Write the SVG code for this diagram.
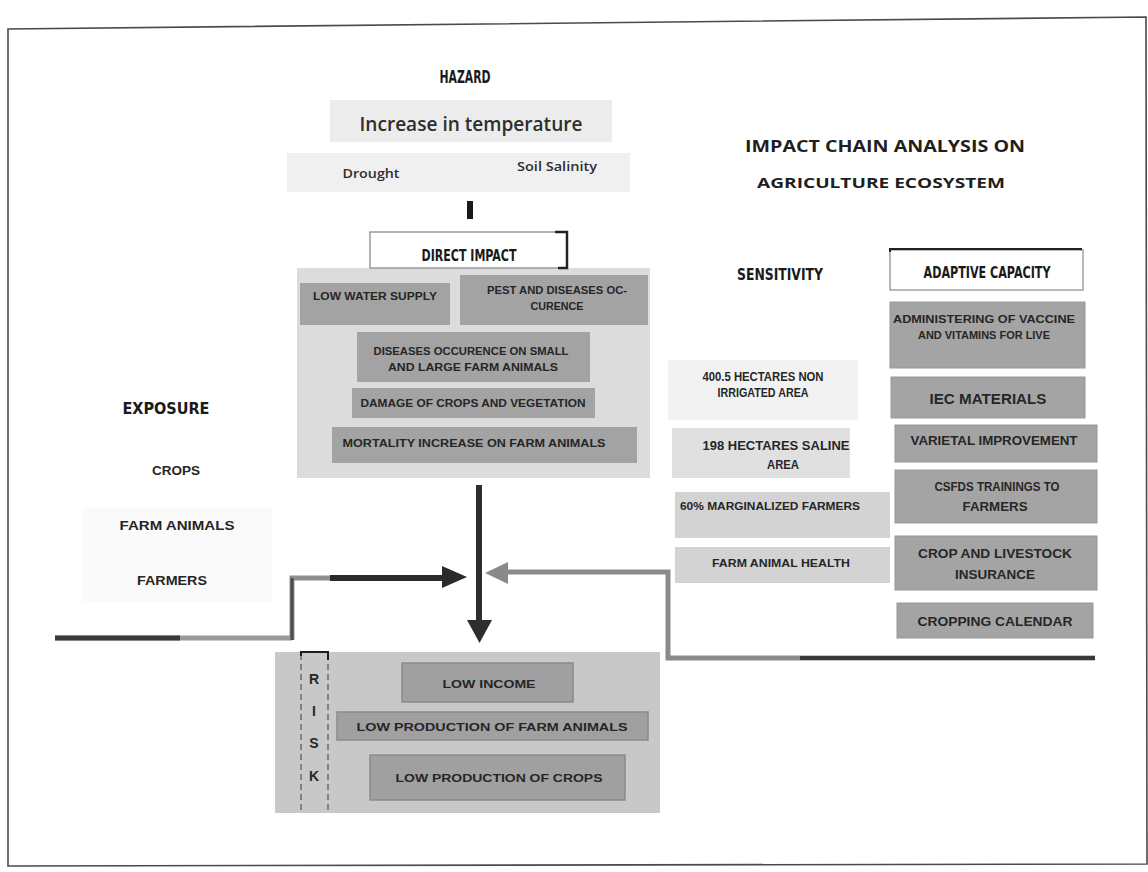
<svg xmlns="http://www.w3.org/2000/svg" width="1148" height="872" viewBox="0 0 1148 872">
  <style>
    .sheet { fill: #ffffff; stroke: #4a4a4a; stroke-width: 1.6; }
    .cond { font-family: "Liberation Sans Narrow", "DejaVu Sans Condensed", "Liberation Sans", sans-serif; font-weight: bold; fill: #1a1a1a; font-stretch: condensed; }
    .lbl { font-family: "Liberation Sans", "Open Sans", sans-serif; font-weight: bold; fill: #262626; }
    .soft { font-family: "Open Sans", "Liberation Sans", sans-serif; font-weight: 600; fill: #2e2e2e; }
    .title { font-family: "Open Sans", "Liberation Sans", sans-serif; font-weight: bold; fill: #1f1f1f; }
    .panel { fill: #dcdcdc; }
    .faint { fill: #ececec; }
    .sens { fill: #d3d3d3; }
    .dark { fill: #a3a3a3; }
    .adapt { fill: #a4a4a4; stroke: #979797; stroke-width: 1; }
    .riskbox { fill: #a0a0a0; stroke: #8a8a8a; stroke-width: 1.5; }
  </style>

  <!-- page frame -->
  <rect width="1148" height="872" fill="#ffffff"/>
  <polygon class="sheet" points="8,29 1146,17 1147,864 8,866"/>

  <!-- hazard -->
  <g id="hazard">
    <text class="cond" x="465" y="83" font-size="17" text-anchor="middle" textLength="51" lengthAdjust="spacingAndGlyphs">HAZARD</text>
    <rect class="faint" x="330" y="100" width="282" height="42"/>
    <text class="soft" x="471" y="131" font-size="20" text-anchor="middle" textLength="223" lengthAdjust="spacingAndGlyphs">Increase in temperature</text>
    <rect class="faint" x="287" y="153" width="343" height="39" opacity="0.8"/>
    <text class="soft" x="371" y="178" font-size="12.5" text-anchor="middle" textLength="57" lengthAdjust="spacingAndGlyphs">Drought</text>
    <text class="soft" x="557" y="171" font-size="12.5" text-anchor="middle" textLength="80" lengthAdjust="spacingAndGlyphs">Soil Salinity</text>
  </g>

  <!-- title -->
  <g id="title">
    <text class="title" x="885" y="152" font-size="16.5" text-anchor="middle" textLength="280" lengthAdjust="spacingAndGlyphs">IMPACT CHAIN ANALYSIS ON</text>
    <text class="title" x="881" y="188" font-size="13.5" text-anchor="middle" textLength="248" lengthAdjust="spacingAndGlyphs">AGRICULTURE ECOSYSTEM</text>
  </g>

  <!-- direct impact -->
  <g id="direct-impact">
    <rect class="panel" x="297" y="268" width="353" height="210"/>
    <rect x="370" y="232" width="197" height="36" fill="#ffffff" stroke="#9a9a9a" stroke-width="1.5"/>
    <path d="M555,232 H567 V268 H558" fill="none" stroke="#222" stroke-width="2.5"/>
    <text class="cond" x="469" y="261" font-size="15" text-anchor="middle" textLength="95" lengthAdjust="spacingAndGlyphs">DIRECT IMPACT</text>

    <rect class="dark" x="300" y="283" width="150" height="42"/>
    <text class="lbl" x="375" y="300" font-size="11" text-anchor="middle" textLength="124" lengthAdjust="spacingAndGlyphs">LOW WATER SUPPLY</text>

    <rect class="dark" x="460" y="275" width="188" height="50"/>
    <text class="lbl" x="557" y="294" font-size="11" text-anchor="middle" textLength="140" lengthAdjust="spacingAndGlyphs">PEST AND DISEASES OC-</text>
    <text class="lbl" x="557" y="310" font-size="11" text-anchor="middle" textLength="53" lengthAdjust="spacingAndGlyphs">CURENCE</text>

    <rect class="dark" x="357" y="332" width="233" height="50"/>
    <text class="lbl" x="471" y="355" font-size="11" text-anchor="middle" textLength="195" lengthAdjust="spacingAndGlyphs">DISEASES OCCURENCE ON SMALL</text>
    <text class="lbl" x="473" y="371" font-size="11" text-anchor="middle" textLength="170" lengthAdjust="spacingAndGlyphs">AND LARGE FARM ANIMALS</text>

    <rect class="dark" x="352" y="388" width="243" height="30"/>
    <text class="lbl" x="473" y="407" font-size="11" text-anchor="middle" textLength="225" lengthAdjust="spacingAndGlyphs">DAMAGE OF CROPS AND VEGETATION</text>

    <rect class="dark" x="332" y="427" width="305" height="36"/>
    <text class="lbl" x="474" y="447" font-size="11" text-anchor="middle" textLength="263" lengthAdjust="spacingAndGlyphs">MORTALITY INCREASE ON FARM ANIMALS</text>
  </g>

  <!-- exposure -->
  <g id="exposure">
    <rect class="faint" x="82" y="508" width="190" height="95" opacity="0.25"/>
    <text class="cond" x="166" y="414" font-size="16" text-anchor="middle" textLength="87" lengthAdjust="spacingAndGlyphs">EXPOSURE</text>
    <text class="lbl" x="176" y="475" font-size="12" text-anchor="middle" textLength="48" lengthAdjust="spacingAndGlyphs">CROPS</text>
    <text class="lbl" x="177" y="530" font-size="13" text-anchor="middle" textLength="115" lengthAdjust="spacingAndGlyphs">FARM ANIMALS</text>
    <text class="lbl" x="172" y="585" font-size="13" text-anchor="middle" textLength="70" lengthAdjust="spacingAndGlyphs">FARMERS</text>
  </g>

  <!-- sensitivity -->
  <g id="sensitivity">
    <text class="cond" x="780" y="280" font-size="16" text-anchor="middle" textLength="86" lengthAdjust="spacingAndGlyphs">SENSITIVITY</text>
    <rect class="faint" x="668" y="360" width="190" height="60" opacity="0.7"/>
    <text class="lbl" x="763" y="381" font-size="12.5" text-anchor="middle" textLength="121" lengthAdjust="spacingAndGlyphs">400.5 HECTARES NON</text>
    <text class="lbl" x="763" y="397" font-size="12.5" text-anchor="middle" textLength="91" lengthAdjust="spacingAndGlyphs">IRRIGATED AREA</text>

    <rect class="sens" x="672" y="428" width="178" height="50" opacity="0.7"/>
    <text class="lbl" x="776" y="450" font-size="12.5" text-anchor="middle" textLength="147" lengthAdjust="spacingAndGlyphs">198 HECTARES SALINE</text>
    <text class="lbl" x="783" y="469" font-size="12.5" text-anchor="middle" textLength="32" lengthAdjust="spacingAndGlyphs">AREA</text>

    <rect class="sens" x="675" y="492" width="215" height="46"/>
    <text class="lbl" x="770" y="510" font-size="10.5" text-anchor="middle" textLength="180" lengthAdjust="spacingAndGlyphs" fill="#3c3c3c">60% MARGINALIZED FARMERS</text>

    <rect class="sens" x="675" y="547" width="215" height="36"/>
    <text class="lbl" x="781" y="567" font-size="10.5" text-anchor="middle" textLength="138" lengthAdjust="spacingAndGlyphs" fill="#3c3c3c">FARM ANIMAL HEALTH</text>
  </g>

  <!-- adaptive capacity -->
  <g id="adaptive-capacity">
    <rect x="890" y="250" width="193" height="40" fill="#ffffff" stroke="#8a8a8a" stroke-width="1.2"/>
    <path d="M890,252 V249 H1082" fill="none" stroke="#222" stroke-width="2"/>
    <text class="cond" x="987" y="278" font-size="15" text-anchor="middle" textLength="127" lengthAdjust="spacingAndGlyphs">ADAPTIVE CAPACITY</text>

    <rect class="adapt" x="890" y="302" width="195" height="66"/>
    <text class="lbl" x="984" y="323" font-size="10.5" text-anchor="middle" textLength="182" lengthAdjust="spacingAndGlyphs">ADMINISTERING OF VACCINE</text>
    <text class="lbl" x="984" y="339" font-size="10.5" text-anchor="middle" textLength="132" lengthAdjust="spacingAndGlyphs">AND VITAMINS FOR LIVE</text>

    <rect class="adapt" x="891" y="377" width="194" height="41"/>
    <text class="lbl" x="988" y="404" font-size="14" text-anchor="middle" textLength="117" lengthAdjust="spacingAndGlyphs">IEC MATERIALS</text>

    <rect class="adapt" x="895" y="425" width="202" height="37"/>
    <text class="lbl" x="994" y="445" font-size="12" text-anchor="middle" textLength="167" lengthAdjust="spacingAndGlyphs">VARIETAL IMPROVEMENT</text>

    <rect class="adapt" x="895" y="470" width="202" height="53"/>
    <text class="lbl" x="997" y="491" font-size="12" text-anchor="middle" textLength="125" lengthAdjust="spacingAndGlyphs">CSFDS TRAININGS TO</text>
    <text class="lbl" x="995" y="511" font-size="12" text-anchor="middle" textLength="65" lengthAdjust="spacingAndGlyphs">FARMERS</text>

    <rect class="adapt" x="895" y="536" width="202" height="54"/>
    <text class="lbl" x="995" y="558" font-size="13" text-anchor="middle" textLength="154" lengthAdjust="spacingAndGlyphs">CROP AND LIVESTOCK</text>
    <text class="lbl" x="995" y="579" font-size="12" text-anchor="middle" textLength="80" lengthAdjust="spacingAndGlyphs">INSURANCE</text>

    <rect class="adapt" x="897" y="603" width="196" height="35"/>
    <text class="lbl" x="995" y="626" font-size="13" text-anchor="middle" textLength="155" lengthAdjust="spacingAndGlyphs">CROPPING CALENDAR</text>
  </g>

  <!-- risk -->
  <g id="risk">
    <rect x="275" y="652" width="385" height="161" fill="#c8c8c8"/>
    <line x1="301" y1="654" x2="301" y2="810" stroke="#555" stroke-width="1.2" stroke-dasharray="6,4"/>
    <line x1="328" y1="654" x2="328" y2="810" stroke="#555" stroke-width="1.2" stroke-dasharray="6,4"/>
    <path d="M301,656 V652 H328 V660" fill="none" stroke="#1e1e1e" stroke-width="2"/>
    <text class="lbl" x="314" y="684" font-size="14" text-anchor="middle">R</text>
    <text class="lbl" x="314" y="716" font-size="14" text-anchor="middle">I</text>
    <text class="lbl" x="314" y="748" font-size="14" text-anchor="middle">S</text>
    <text class="lbl" x="314" y="781" font-size="14" text-anchor="middle">K</text>

    <rect class="riskbox" x="402" y="663" width="171" height="39"/>
    <text class="lbl" x="489" y="688" font-size="11.5" text-anchor="middle" textLength="93" lengthAdjust="spacingAndGlyphs">LOW INCOME</text>

    <rect class="riskbox" x="337" y="712" width="311" height="28"/>
    <text class="lbl" x="492" y="731" font-size="11.5" text-anchor="middle" textLength="271" lengthAdjust="spacingAndGlyphs">LOW PRODUCTION OF FARM ANIMALS</text>

    <rect class="riskbox" x="370" y="755" width="255" height="45"/>
    <text class="lbl" x="499" y="782" font-size="11.5" text-anchor="middle" textLength="207" lengthAdjust="spacingAndGlyphs">LOW PRODUCTION OF CROPS</text>
  </g>

  <!-- connectors -->
  <g id="connectors" fill="none">
    <!-- hazard to direct impact -->
    <line x1="470" y1="201" x2="470" y2="219" stroke="#1a1a1a" stroke-width="6"/>
    <!-- direct impact down to risk -->
    <line x1="479" y1="485" x2="479" y2="622" stroke="#2e2e2e" stroke-width="6"/>
    <path d="M467,620 H492 L479.5,643 Z" fill="#2e2e2e"/>
    <!-- exposure into the chain -->
    <path d="M55,638 H292" stroke="#9a9a9a" stroke-width="5"/>
    <path d="M55,638 H180" stroke="#3a3a3a" stroke-width="5"/>
    <path d="M292,640 V578 H330" stroke="#8f8f8f" stroke-width="5"/>
    <path d="M292,640 V578" stroke="#4a4a4a" stroke-width="3"/>
    <path d="M330,578 H444" stroke="#2a2a2a" stroke-width="6"/>
    <path d="M442,566 L467,577 L442,588 Z" fill="#2a2a2a"/>
    <!-- sensitivity / adaptive capacity into the chain -->
    <path d="M1095,658 H668 V572 H506" stroke="#8a8a8a" stroke-width="5"/>
    <path d="M1095,658 H800" stroke="#3a3a3a" stroke-width="4"/>
    <path d="M508,562 L485,573 L508,584 Z" fill="#8a8a8a"/>
  </g>
</svg>
